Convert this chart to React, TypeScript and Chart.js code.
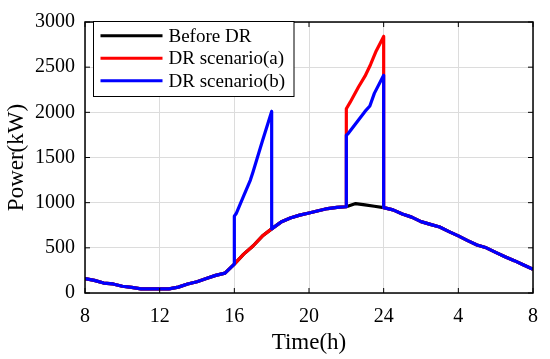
import React, { useEffect, useRef } from "react";
import { Chart, registerables } from "chart.js";

Chart.register(...registerables);

// ---- data ----
const baseTime = [
  8, 8.5, 9, 9.5, 10, 10.5, 11, 11.5, 12, 12.5, 13, 13.5, 14, 14.5, 15, 15.5, 16,
  16.5, 17, 17.5, 18, 18.5, 19, 19.5, 20, 20.5, 21, 21.5, 22, 22.5, 23, 23.5, 24,
  24.5, 25, 25.5, 26, 26.5, 27, 27.5, 28, 28.5, 29, 29.5, 30, 30.5, 31, 31.5, 32,
];
const beforeDR = [
  160, 140, 110, 100, 75, 62, 45, 45, 45, 45, 65, 100, 125, 160, 195, 220, 320,
  430, 520, 630, 710, 785, 830, 862, 885, 910, 935, 948, 955, 990, 975, 960, 945,
  920, 875, 840, 790, 760, 730, 680, 632, 580, 532, 500, 450, 402, 358, 310, 262,
];

// scenario (a): shifted peak between 22h and 24h
const peakATime = [22, 22.2, 22.65, 23, 23.3, 23.6, 24];
const peakAValues = [2040, 2110, 2280, 2400, 2530, 2680, 2840];

// scenario (b): shifted peaks between 16h-18h and 22h-24h
const peakB1Time = [16, 16.1, 16.5, 16.86, 17, 17.5, 18];
const peakB1Values = [850, 880, 1075, 1250, 1340, 1680, 2010];
const peakB2Time = [22, 22.1, 22.56, 23, 23.26, 23.5, 24];
const peakB2Values = [1746, 1765, 1890, 2010, 2070, 2210, 2410];

const xTicks = [8, 12, 16, 20, 24, 28, 32];
const xTickLabels = ["8", "12", "16", "20", "24", "4", "8"];
const legendLabels = ["Before DR", "DR scenario(a)", "DR scenario(b)"];
const seriesColors = ["#000000", "#ff0000", "#0000ff"];

type Pt = { x: number; y: number };

function baseRange(lo: number, hi: number): Pt[] {
  const out: Pt[] = [];
  baseTime.forEach((t, i) => {
    if (t >= lo && t <= hi) out.push({ x: t, y: beforeDR[i] });
  });
  return out;
}
function pts(ts: number[], vs: number[]): Pt[] {
  return ts.map((t, i) => ({ x: t, y: vs[i] }));
}

const FONT = "'Liberation Serif', 'Times New Roman', serif";

const boxPlugin = {
  id: "boxAndTicks",
  afterDatasetsDraw(chart: any) {
    const { ctx, chartArea } = chart;
    const { left, right, top, bottom } = chartArea;
    const xs = chart.scales.x;
    const ys = chart.scales.y;
    ctx.save();
    ctx.strokeStyle = "#000";
    ctx.lineWidth = 1.5;
    ctx.strokeRect(left, top, right - left, bottom - top);
    ctx.lineWidth = 1;
    const tl = 5;
    ctx.beginPath();
    xTicks.forEach((v) => {
      const px = xs.getPixelForValue(v);
      ctx.moveTo(px, bottom);
      ctx.lineTo(px, bottom - tl);
      ctx.moveTo(px, top);
      ctx.lineTo(px, top + tl);
    });
    for (let v = 0; v <= 3000; v += 500) {
      const py = ys.getPixelForValue(v);
      ctx.moveTo(left, py);
      ctx.lineTo(left + tl, py);
      ctx.moveTo(right, py);
      ctx.lineTo(right - tl, py);
    }
    ctx.stroke();

    // legend
    const bx = 93.5, by = 21.5, bw = 200.5, bh = 75;
    ctx.fillStyle = "#fff";
    ctx.fillRect(bx, by, bw, bh);
    ctx.lineWidth = 1;
    ctx.strokeStyle = "#000";
    ctx.strokeRect(bx, by, bw, bh);
    ctx.font = `19px ${FONT}`;
    ctx.textBaseline = "middle";
    ctx.textAlign = "left";
    legendLabels.forEach((lab, i) => {
      const y = 35.7 + i * 22.5;
      ctx.strokeStyle = seriesColors[i];
      ctx.lineWidth = 3;
      ctx.beginPath();
      ctx.moveTo(100.5, y);
      ctx.lineTo(162.5, y);
      ctx.stroke();
      ctx.fillStyle = "#000";
      ctx.fillText(lab, 168.5, y + 1);
    });
    ctx.restore();
  },
};

export default function App() {
  const ref = useRef<HTMLCanvasElement | null>(null);
  useEffect(() => {
    document.body.style.margin = "0";
    if (!ref.current) return;
    const dataA = [...baseRange(8, 22), ...pts(peakATime, peakAValues), ...baseRange(24, 32)];
    const dataB = [
      ...baseRange(8, 16),
      ...pts(peakB1Time, peakB1Values),
      ...baseRange(18, 22),
      ...pts(peakB2Time, peakB2Values),
      ...baseRange(24, 32),
    ];
    const chart = new Chart(ref.current, {
      type: "scatter",
      data: {
        datasets: [
          {
            label: legendLabels[0],
            data: pts(baseTime, beforeDR),
            borderColor: seriesColors[0],
            order: 2,
          },
          { label: legendLabels[1], data: dataA, borderColor: seriesColors[1], order: 1 },
          { label: legendLabels[2], data: dataB, borderColor: seriesColors[2], order: 0 },
        ].map((d) => ({
          ...d,
          showLine: true,
          borderWidth: 3.2,
          pointRadius: 0,
          tension: 0,
          borderJoinStyle: "round" as const,
        })),
      },
      plugins: [boxPlugin],
      options: {
        animation: false,
        responsive: false,
        layout: { padding: { top: 13, right: 9, left: 0, bottom: 0 } },
        plugins: { legend: { display: false }, tooltip: { enabled: false } },
        scales: {
          x: {
            type: "linear",
            min: 8,
            max: 32,
            afterBuildTicks: (s: any) => {
              s.ticks = xTicks.map((v) => ({ value: v }));
            },
            afterFit: (s: any) => {
              s.height = 66;
            },
            ticks: {
              callback: (v: any) => {
                const i = xTicks.indexOf(Number(v));
                return i >= 0 ? xTickLabels[i] : "";
              },
              font: { family: FONT, size: 20 },
              color: "#000",
              padding: 12,
              maxRotation: 0,
            },
            grid: { color: "#dcdcdc", lineWidth: 1, drawTicks: false },
            border: { display: false },
            title: {
              display: true,
              text: "Time(h)",
              font: { family: FONT, size: 23 },
              color: "#000",
              padding: { top: 0, bottom: 2 },
            },
          },
          y: {
            min: 0,
            max: 3000,
            afterFit: (s: any) => {
              s.width = 85;
            },
            ticks: {
              stepSize: 500,
              callback: (v: any) => String(v),
              font: { family: FONT, size: 20 },
              color: "#000",
              padding: 10,
            },
            grid: { color: "#dcdcdc", lineWidth: 1, drawTicks: false },
            border: { display: false },
            title: {
              display: true,
              text: "Power(kW)",
              font: { family: FONT, size: 23 },
              color: "#000",
              padding: { top: 3, bottom: 0 },
            },
          },
        },
      },
    });
    return () => chart.destroy();
  }, []);
  return <canvas ref={ref} width={550} height={359} style={{ display: "block" }} />;
}
